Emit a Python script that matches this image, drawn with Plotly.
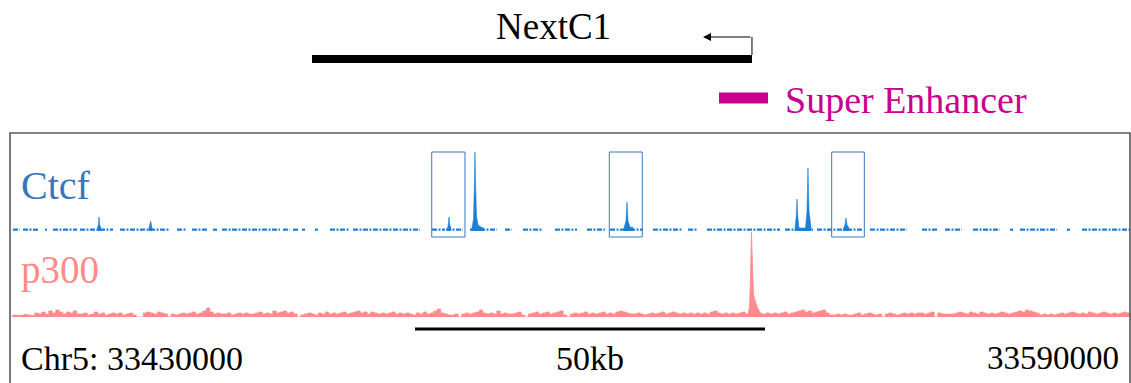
import numpy as np
import plotly.graph_objects as go

# ---------------- data (positions in kb from region start) ----------------
chrom = "Chr5"
region_start = 33430000
region_end = 33590000
scale_bar_kb = 50
scale_bar_start_kb = 57.57

gene_name = "NextC1"
gene_start_kb = 42.86
gene_end_kb = 105.71          # TSS (minus strand)
tss_arrow_tip_kb = 98.71

se_label = "Super Enhancer"
se_start_kb = 101.0
se_end_kb = 108.0

# Ctcf covered intervals (kb) and baseline level
ctcf_seg_start = [0.14, 1.57, 3.0, 4.71, 5.86, 9.71, 15.43, 23.57, 25.71, 28.71, 30.0, 38.71,
                  40.14, 41.43, 43.29, 45.43, 48.71, 60.0, 62.0, 65.43, 70.43, 73.0, 77.57,
                  82.14, 85.43, 91.57, 96.57, 99.29, 110.43, 115.0, 122.57, 130.0, 133.29,
                  137.29, 142.57, 144.0, 150.71, 152.86]
ctcf_seg_end = [1.14, 2.86, 3.71, 5.0, 9.29, 14.43, 22.57, 25.0, 27.86, 29.29, 38.29, 39.71,
                40.86, 41.86, 43.71, 48.29, 58.29, 61.86, 64.43, 69.29, 71.43, 75.86, 80.71,
                84.71, 90.14, 95.86, 97.86, 109.71, 114.43, 121.57, 127.86, 132.14, 135.71,
                141.14, 143.0, 149.29, 151.14, 159.71]
ctcf_base = 1.3
# Ctcf peak profile points (kb, signal)
ctcf_peak_kb = [12.21, 12.36, 12.43, 12.53, 12.71,
                19.57, 19.81, 20.0,
                62.21, 62.32, 62.43, 62.54, 62.71,
                65.71, 65.93, 66.07, 66.14, 66.24, 66.36, 66.57, 67.0, 67.43,
                87.43, 87.71, 87.86, 88.0, 88.29, 88.71,
                111.86, 112.04, 112.14, 112.26, 112.43,
                113.36, 113.57, 113.71, 113.86, 114.14,
                118.79, 119.0, 119.14, 119.29, 119.57]
ctcf_peak_val = [3, 7, 14, 6, 3,
                 3, 10, 3,
                 3, 6, 14, 6, 3,
                 3, 12, 50, 79, 45, 15, 6, 4, 2.5,
                 3, 10, 29, 10, 4, 3.5,
                 3, 15, 32, 14, 3,
                 3, 20, 63, 20, 4,
                 3, 6, 13, 6, 3]

# p300 background signal, 0.5 kb bins starting at 0 kb
p300_bin_kb = 0.5
p300_bg = [1.5, 2, 1.5, 2, 2.5, 2, 1.5,
           4, 3, 5, 3, 6, 4, 7, 5, 3, 5, 4, 6, 3,
           3, 4, 2, 3, 5, 3, 4, 2, 3, 4, 3, 4, 2, 3, 4, 2,
           0, 0,
           4, 5, 4, 3, 5, 4, 3,
           0,
           3, 2, 3, 4, 3, 4, 5, 3, 4, 6,
           9, 5,
           3, 4, 3, 3, 4, 2, 3, 4, 3, 4, 3, 3, 4, 5, 3, 4, 3, 6, 4,
           5, 6, 4, 5, 3, 0,
           2, 3, 4, 3, 2, 4, 3, 5, 3, 4, 3,
           4, 5, 3, 4, 5, 6, 4, 5, 3, 5, 4,
           3, 4, 3, 4, 5, 3, 4, 3,
           4, 3, 2, 4, 3, 5, 3, 4, 6, 8,
           4, 3, 2, 2, 3, 0,
           3, 4, 3, 4, 5, 7,
           4, 3, 4, 3, 6, 3, 4, 3, 3, 4, 5,
           2, 0,
           3, 4, 5, 3, 4, 5, 3, 4, 5, 6,
           2, 0,
           3, 4, 3, 4, 5, 3, 4, 3, 4, 5, 3, 4, 3, 5,
           6, 5, 4, 3,
           3, 4, 3, 2, 3, 4, 3, 4, 5, 3,
           4, 5, 4, 3, 4, 3, 4, 3, 4, 3,
           4, 3, 5, 6,
           4, 3, 4, 3, 4, 3, 4, 5,
           3, 3, 3,
           4, 3,
           3, 4, 3, 4, 3, 4, 5, 3, 4, 5, 6, 7,
           5, 6, 4, 5, 6, 7,
           4, 2, 2, 3, 2, 3, 2, 2, 3, 4, 2,
           3, 4, 3, 2, 3, 0,
           3, 4, 3, 2, 3, 4, 3,
           4, 3, 4, 4, 3, 4, 5, 0, 4, 3, 3, 3,
           3, 4, 5, 4, 3, 5, 4, 3, 5, 4, 3, 4, 3,
           4, 5, 4, 3, 4, 5, 6, 5, 7, 6, 5, 4,
           2, 3, 2, 3, 2, 3, 4,
           3, 4, 5, 4, 3, 4, 3, 5, 4, 3, 4, 5, 4, 3, 4, 3, 4, 5, 4, 3]
# p300 super-enhancer peak profile
p300_peak_kb = [105.14, 105.36, 105.5, 105.64, 105.79, 105.93, 106.14, 106.36, 106.57, 106.86, 107.1]
p300_peak_val = [3, 10, 40, 85, 50, 22, 17, 12, 8, 5, 3]

# CTCF highlight boxes (kb)
box_start_kb = [59.96, 85.33, 117.1]
box_end_kb = [64.71, 90.04, 121.76]

# ---------------- build ----------------
W, H = 1131, 383
px_per_kb = 7.0
x_left_px = 12.0
xr = [-x_left_px / px_per_kb, (W - x_left_px) / px_per_kb]

def ydom(bottom_px, top_px):
    return [1 - bottom_px / H, 1 - top_px / H]

def kb_at_px(p):
    return (p - x_left_px) / px_per_kb

# Ctcf peaks: one closed polygon per covered interval that contains peak points
cx, cy = [], []
bx, by = [], []
pk = list(zip(ctcf_peak_kb, ctcf_peak_val))
for s, e in zip(ctcf_seg_start, ctcf_seg_end):
    bx += [s, e, None]
    by += [ctcf_base, ctcf_base, None]
    inside = [(k, v) for k, v in pk if s < k < e]
    if inside:
        cx.append(inside[0][0])
        cy.append(0)
        for k, v in inside:
            cx.append(k)
            cy.append(v)
        cx += [inside[-1][0], None]
        cy += [0, None]

px_x = [i * p300_bin_kb for i in range(len(p300_bg))]

CTCF_C = "#1b7fd6"
P300_C = "#ff8c8c"
SERIF = "Liberation Serif, Times New Roman, serif"
CLEAR = "rgba(0,0,0,0)"

fig = go.Figure()
fig.add_trace(go.Scatter(x=bx, y=by, mode="lines", connectgaps=False,
                         line=dict(width=2.2, color=CTCF_C, dash="5px,1.5px,2px,1.5px"),
                         yaxis="y2", hoverinfo="skip"))
fig.add_trace(go.Scatter(x=cx, y=cy, mode="lines", fill="toself", fillcolor=CTCF_C,
                         line=dict(width=0.6, color=CTCF_C, simplify=False), connectgaps=False,
                         yaxis="y2", hoverinfo="skip"))
fig.add_trace(go.Scatter(x=px_x, y=p300_bg, mode="lines", fill="tozeroy", fillcolor=P300_C,
                         line=dict(width=0.7, color=P300_C, simplify=False, shape="hvh"),
                         yaxis="y3", hoverinfo="skip"))
fig.add_trace(go.Scatter(x=p300_peak_kb, y=p300_peak_val, mode="lines", fill="tozeroy",
                         fillcolor=P300_C, line=dict(width=0.8, color=P300_C, simplify=False),
                         yaxis="y3", hoverinfo="skip"))

shapes = []
# frame
shapes.append(dict(type="rect", xref="paper", yref="paper", x0=10 / W, x1=1130 / W,
                   y0=-0.1, y1=1 - 133 / H, line=dict(color="#5a5a5a", width=1.6)))
# gene body
shapes.append(dict(type="line", xref="x", yref="y", x0=gene_start_kb, x1=gene_end_kb,
                   y0=59, y1=59, line=dict(color="black", width=8)))
# TSS vertical
shapes.append(dict(type="line", xref="x", yref="y", x0=gene_end_kb, x1=gene_end_kb,
                   y0=55, y1=37, line=dict(color="black", width=1)))
# super enhancer
shapes.append(dict(type="line", xref="x", yref="y", x0=se_start_kb, x1=se_end_kb,
                   y0=98, y1=98, line=dict(color="#c8008f", width=11)))
# scale bar
shapes.append(dict(type="line", xref="x", yref="y", x0=scale_bar_start_kb,
                   x1=scale_bar_start_kb + scale_bar_kb, y0=329, y1=329,
                   line=dict(color="black", width=3)))
# ctcf boxes
for b0, b1 in zip(box_start_kb, box_end_kb):
    shapes.append(dict(type="rect", xref="x", yref="y", x0=b0, x1=b1, y0=152, y1=237,
                       line=dict(color="#3b78c2", width=1)))

ann = [
    dict(x=kb_at_px(553), y=26, text=gene_name,
         font=dict(family=SERIF, size=37, color="black")),
    dict(x=kb_at_px(783), y=100, text=se_label, xanchor="left",
         font=dict(family=SERIF, size=38, color="#c8008f")),
    dict(x=kb_at_px(19), y=185, text="Ctcf", xanchor="left",
         font=dict(family=SERIF, size=40, color="#3876c0")),
    dict(x=kb_at_px(19), y=270, text="p300", xanchor="left",
         font=dict(family=SERIF, size=39, color="#ff8a8a")),
    dict(x=kb_at_px(19), y=358, text=f"{chrom}: {region_start}", xanchor="left",
         font=dict(family=SERIF, size=34, color="black")),
    dict(x=scale_bar_start_kb + scale_bar_kb / 2, y=358, text=f"{scale_bar_kb}kb",
         font=dict(family=SERIF, size=34, color="black")),
    dict(x=kb_at_px(1121), y=358, text=f"{region_end}",
         xanchor="right", font=dict(family=SERIF, size=33, color="black")),
]
annotations = []
for a in ann:
    d = dict(xref="x", yref="y", showarrow=False, yanchor="middle")
    d.setdefault("xanchor", "center")
    d.update(a)
    annotations.append(d)
# TSS arrow
annotations.append(dict(xref="x", yref="y", axref="x", ayref="y", x=tss_arrow_tip_kb, y=37,
                        ax=gene_end_kb, ay=37, showarrow=True, arrowhead=2, arrowsize=1.6,
                        arrowwidth=1, arrowcolor="black", text=""))

fig.update_layout(
    width=W, height=H, margin=dict(l=0, r=0, t=0, b=0),
    paper_bgcolor="white", plot_bgcolor=CLEAR, showlegend=False,
    xaxis=dict(range=xr, visible=False, fixedrange=True),
    yaxis=dict(range=[H, 0], domain=[0, 1], visible=False, fixedrange=True),
    yaxis2=dict(range=[0, 100], domain=ydom(231, 131), anchor="x", visible=False),
    yaxis3=dict(range=[0, 100], domain=ydom(317, 217), anchor="x", visible=False),
    shapes=shapes, annotations=annotations,
)
fig.write_html("out.html", config={"displayModeBar": False, "staticPlot": True},
               post_script="document.body.style.margin='0';")
